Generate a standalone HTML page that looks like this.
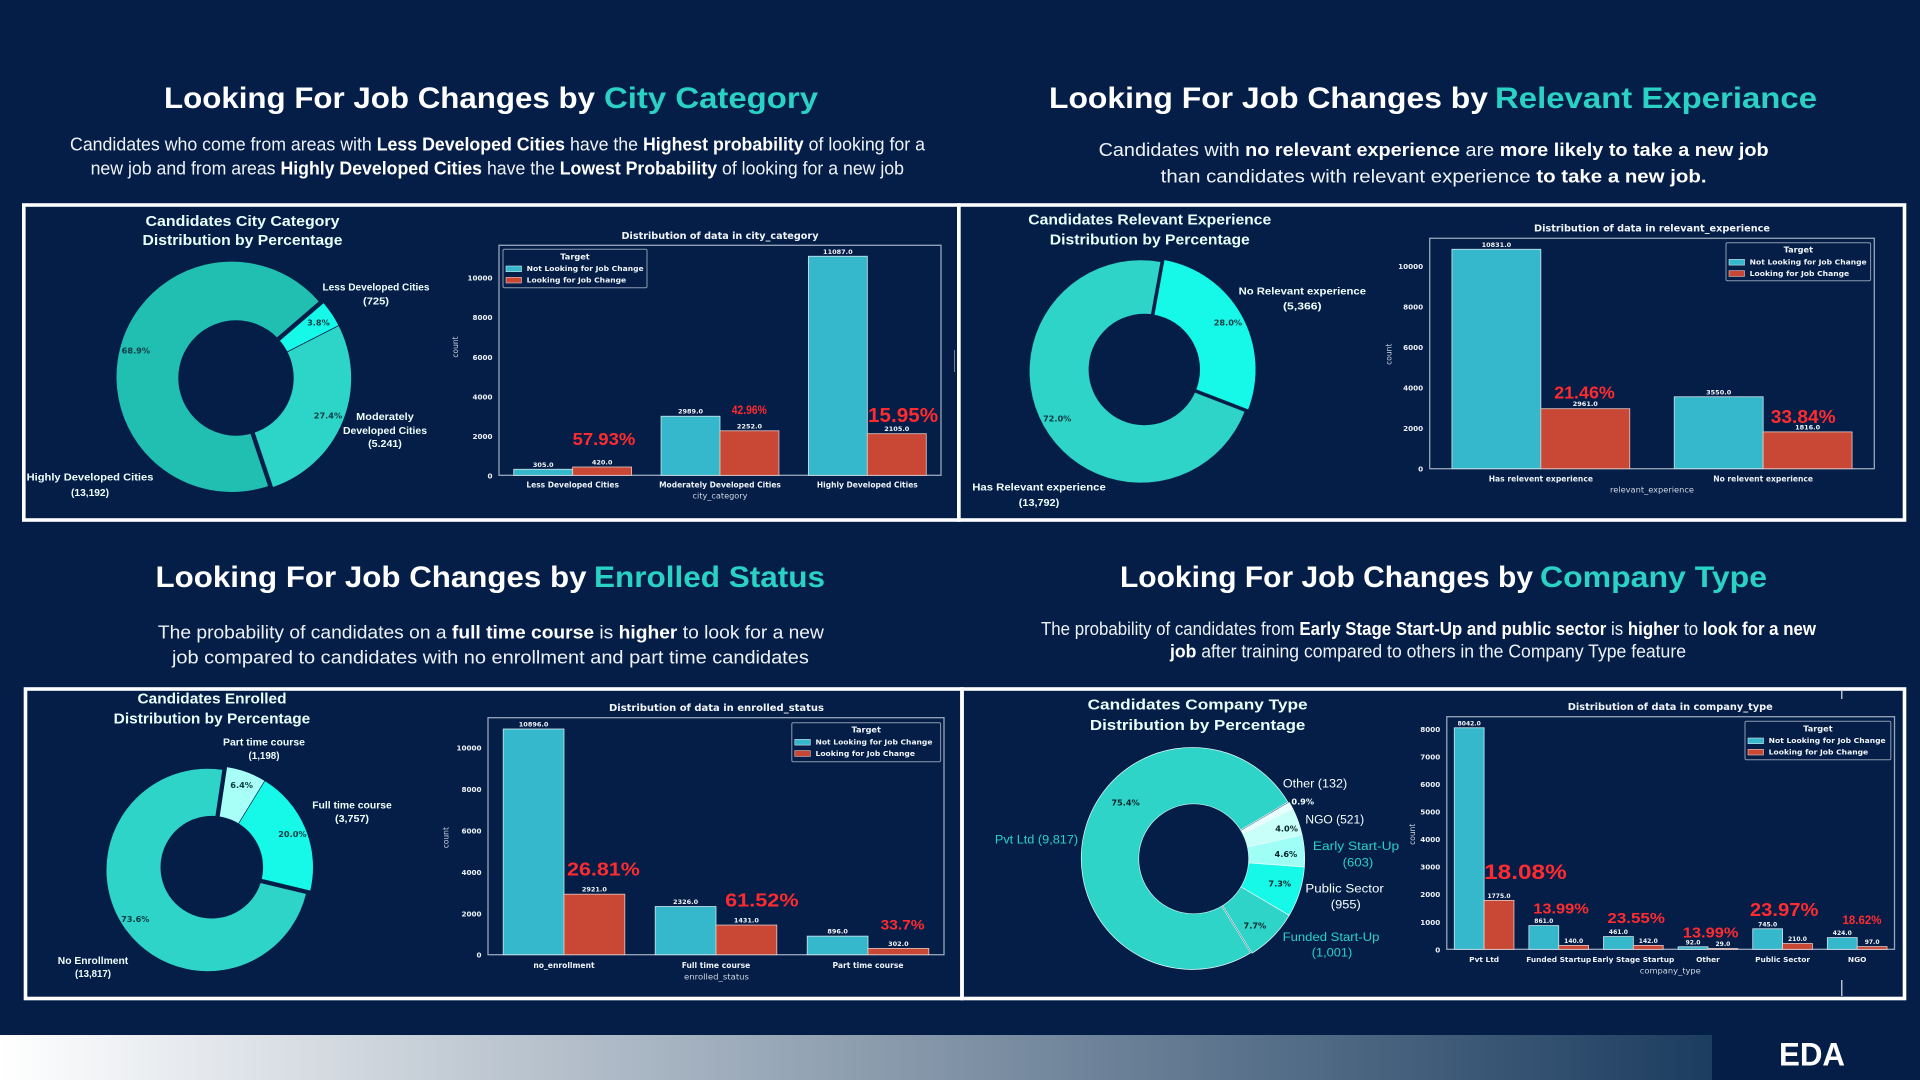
<!DOCTYPE html>
<html lang="en">
<head>
<meta charset="utf-8">
<title>EDA - Looking For Job Changes</title>
<style>
html,body{margin:0;padding:0;background:#041e48;width:1920px;height:1080px;overflow:hidden}
svg{display:block}
text{font-family:"Liberation Sans",sans-serif}
.h{font-size:30px;font-weight:700;fill:#fff}
.h .t{fill:#2ad2c5}
.p{font-size:18px;fill:#eef2f6}
.p .b{font-weight:700;fill:#fff}
.dt{font-size:14.5px;font-weight:700;fill:#e9fffb;text-anchor:middle}
.sl{font-size:10.5px;font-weight:700;fill:#f0fffd;text-anchor:middle}
.st{font-size:11.5px;font-weight:400;fill:#2ad2c5;text-anchor:middle}
.sw{font-size:11.5px;font-weight:400;fill:#f4fffe;text-anchor:middle}
.dv{font-family:"DejaVu Sans",sans-serif}
</style>
</head>
<body>
<svg xmlns="http://www.w3.org/2000/svg" width="1920" height="1080" viewBox="0 0 1920 1080">
  <defs>
    <linearGradient id="footGrad" x1="0" x2="1" y1="0" y2="0">
      <stop offset="0" stop-color="#ffffff"/>
      <stop offset="1" stop-color="#1c3d60"/>
    </linearGradient>
  </defs>
  <rect x="0" y="0" width="1920" height="1080" fill="#041e48"/>

  <text class="h" y="108"><tspan x="164" textLength="431" lengthAdjust="spacingAndGlyphs">Looking For Job Changes by</tspan><tspan class="t" x="604" textLength="214" lengthAdjust="spacingAndGlyphs">City Category</tspan></text>
  <text class="h" y="108"><tspan x="1049" textLength="439" lengthAdjust="spacingAndGlyphs">Looking For Job Changes by</tspan><tspan class="t" x="1495" textLength="322" lengthAdjust="spacingAndGlyphs">Relevant Experiance</tspan></text>
  <text class="h" y="587"><tspan x="155.5" textLength="431" lengthAdjust="spacingAndGlyphs">Looking For Job Changes by</tspan><tspan class="t" x="594" textLength="231" lengthAdjust="spacingAndGlyphs">Enrolled Status</tspan></text>
  <text class="h" y="587"><tspan x="1120" textLength="413" lengthAdjust="spacingAndGlyphs">Looking For Job Changes by</tspan><tspan class="t" x="1540" textLength="227" lengthAdjust="spacingAndGlyphs">Company Type</tspan></text>

  <text class="p" x="70" y="150.7" textLength="855" lengthAdjust="spacingAndGlyphs">Candidates who come from areas with <tspan class="b">Less Developed Cities</tspan> have the <tspan class="b">Highest probability</tspan> of looking for a</text>
  <text class="p" x="90.6" y="174.3" textLength="813.4" lengthAdjust="spacingAndGlyphs">new job and from areas <tspan class="b">Highly Developed Cities</tspan> have the <tspan class="b">Lowest Probability</tspan> of looking for a new job</text>
  <text class="p" x="1098.6" y="156" textLength="670" lengthAdjust="spacingAndGlyphs">Candidates with <tspan class="b">no relevant experience</tspan> are <tspan class="b">more likely to take a new job</tspan></text>
  <text class="p" x="1160.7" y="182.7" textLength="545.8" lengthAdjust="spacingAndGlyphs">than candidates with relevant experience <tspan class="b">to take a new job.</tspan></text>
  <text class="p" x="157.9" y="638.3" textLength="666" lengthAdjust="spacingAndGlyphs">The probability of candidates on a <tspan class="b">full time course</tspan> is <tspan class="b">higher</tspan> to look for a new</text>
  <text class="p" x="172" y="663.3" textLength="636.8" lengthAdjust="spacingAndGlyphs">job compared to candidates with no enrollment and part time candidates</text>
  <text class="p" x="1041" y="635" textLength="775" lengthAdjust="spacingAndGlyphs">The probability of candidates from <tspan class="b">Early Stage Start-Up and public sector</tspan> is <tspan class="b">higher</tspan> to <tspan class="b">look for a new</tspan></text>
  <text class="p" x="1170" y="657.3" textLength="516" lengthAdjust="spacingAndGlyphs"><tspan class="b">job</tspan> after training compared to others in the Company Type feature</text>

  <g fill="none" stroke="#fff" stroke-width="3.6">
    <rect x="23.8" y="205" width="935" height="315"/>
    <rect x="958.8" y="205" width="945.7" height="315"/>
    <rect x="25.5" y="689" width="936.5" height="309.5"/>
    <rect x="962" y="689" width="942.5" height="309.5"/>
  </g>
  <rect x="1841.2" y="691" width="1.2" height="8" fill="#dfe6ee"/>
  <rect x="1841.2" y="980" width="1.2" height="16" fill="#dfe6ee"/>
  <rect x="954" y="350" width="1" height="22" fill="#6f7f98"/>

  <g id="city-donut">
    <text class="dt" x="242.5" y="226" textLength="194" lengthAdjust="spacingAndGlyphs">Candidates City Category</text>
    <text class="dt" x="242.5" y="245" textLength="200" lengthAdjust="spacingAndGlyphs">Distribution by Percentage</text>
    <text class="sl" x="376" y="290.7" textLength="107" lengthAdjust="spacingAndGlyphs">Less Developed Cities</text>
    <text class="sl" x="376" y="304.7" textLength="26" lengthAdjust="spacingAndGlyphs">(725)</text>
    <text class="sl" x="385" y="420" textLength="57.6" lengthAdjust="spacingAndGlyphs">Moderately</text>
    <text class="sl" x="385" y="434" textLength="84" lengthAdjust="spacingAndGlyphs">Developed Cities</text>
    <text class="sl" x="385" y="447" textLength="33.7" lengthAdjust="spacingAndGlyphs">(5.241)</text>
    <text class="sl" x="90" y="480.7" textLength="126.8" lengthAdjust="spacingAndGlyphs">Highly Developed Cities</text>
    <text class="sl" x="90" y="496" textLength="38" lengthAdjust="spacingAndGlyphs">(13,192)</text>
  </g>
  <g id="city-bars"></g>

  <g id="exp-donut">
    <text class="dt" x="1149.8" y="224.3" textLength="243" lengthAdjust="spacingAndGlyphs">Candidates Relevant Experience</text>
    <text class="dt" x="1149.8" y="244.3" textLength="200" lengthAdjust="spacingAndGlyphs">Distribution by Percentage</text>
    <text class="sl" x="1302.3" y="294.7" textLength="127.4" lengthAdjust="spacingAndGlyphs">No Relevant experience</text>
    <text class="sl" x="1302.3" y="309.7" textLength="38.6" lengthAdjust="spacingAndGlyphs">(5,366)</text>
    <text class="sl" x="1039" y="490.7" textLength="133.5" lengthAdjust="spacingAndGlyphs">Has Relevant experience</text>
    <text class="sl" x="1039" y="506" textLength="40.4" lengthAdjust="spacingAndGlyphs">(13,792)</text>
  </g>
  <g id="exp-bars"></g>

  <g id="enr-donut">
    <text class="dt" x="212" y="703.3" textLength="149" lengthAdjust="spacingAndGlyphs">Candidates Enrolled</text>
    <text class="dt" x="212" y="723.3" textLength="196.6" lengthAdjust="spacingAndGlyphs">Distribution by Percentage</text>
    <text class="sl" x="264" y="745.7" textLength="82" lengthAdjust="spacingAndGlyphs">Part time course</text>
    <text class="sl" x="264" y="759" textLength="31" lengthAdjust="spacingAndGlyphs">(1,198)</text>
    <text class="sl" x="352" y="808.7" textLength="79.6" lengthAdjust="spacingAndGlyphs">Full time course</text>
    <text class="sl" x="352" y="822" textLength="34" lengthAdjust="spacingAndGlyphs">(3,757)</text>
    <text class="sl" x="93" y="964" textLength="70.4" lengthAdjust="spacingAndGlyphs">No Enrollment</text>
    <text class="sl" x="93" y="977" textLength="36" lengthAdjust="spacingAndGlyphs">(13,817)</text>
  </g>
  <g id="enr-bars"></g>

  <g id="com-donut">
    <text class="dt" x="1197.6" y="709.3" textLength="220" lengthAdjust="spacingAndGlyphs">Candidates Company Type</text>
    <text class="dt" x="1197.6" y="730" textLength="215.5" lengthAdjust="spacingAndGlyphs">Distribution by Percentage</text>
    <text class="sw" x="1315" y="787.7" textLength="64.3" lengthAdjust="spacingAndGlyphs">Other (132)</text>
    <text class="sw" x="1334.8" y="823.7" textLength="58.8" lengthAdjust="spacingAndGlyphs">NGO (521)</text>
    <text class="st" x="1356" y="850" textLength="86.3" lengthAdjust="spacingAndGlyphs">Early  Start-Up</text>
    <text class="st" x="1358" y="866.7" textLength="30.6" lengthAdjust="spacingAndGlyphs">(603)</text>
    <text class="sw" x="1344.6" y="892.7" textLength="78.4" lengthAdjust="spacingAndGlyphs">Public Sector</text>
    <text class="sw" x="1345.8" y="908.7" textLength="30" lengthAdjust="spacingAndGlyphs">(955)</text>
    <text class="st" x="1331" y="941" textLength="96.8" lengthAdjust="spacingAndGlyphs">Funded Start-Up</text>
    <text class="st" x="1332" y="956.7" textLength="40.4" lengthAdjust="spacingAndGlyphs">(1,001)</text>
    <text class="st" x="1036.5" y="843.7" textLength="83.3" lengthAdjust="spacingAndGlyphs">Pvt Ltd (9,817)</text>
  </g>
  <g id="com-bars"></g>

  <rect x="0" y="1035" width="1712" height="45" fill="url(#footGrad)"/>
  <text x="1779" y="1065.7" font-size="32" font-weight="700" fill="#fff" textLength="66" lengthAdjust="spacingAndGlyphs">EDA</text>
</svg>
<script>
// ---- city category data ----
const cityCategories = ['Less Developed Cities', 'Moderately Developed Cities', 'Highly Developed Cities'];
const cityNotLooking = [305, 2989, 11087];
const cityLooking = [420, 2252, 2105];
const cityTicks = [0, 2000, 4000, 6000, 8000, 10000];
const cityPieCounts = [13192, 5241, 725];
const cityPieText = ['68.9%', '27.4%', '3.8%'];

// ---- relevant experience data ----
const expCategories = ['Has relevent experience', 'No relevent experience'];
const expNotLooking = [10831, 3550];
const expLooking = [2961, 1816];
const expTicks = [0, 2000, 4000, 6000, 8000, 10000];
const expPieCounts = [13792, 5366];
const expPieText = ['72.0%', '28.0%'];

// ---- enrolled status data ----
const enrCategories = ['no_enrollment', 'Full time course', 'Part time course'];
const enrNotLooking = [10896, 2326, 896];
const enrLooking = [2921, 1431, 302];
const enrTicks = [0, 2000, 4000, 6000, 8000, 10000];
const enrPieCounts = [13817, 3757, 1198];
const enrPieText = ['73.6%', '20.0%', '6.4%'];

// ---- company type data ----
const comCategories = ['Pvt Ltd', 'Funded Startup', 'Early Stage Startup', 'Other', 'Public Sector', 'NGO'];
const comNotLooking = [8042, 861, 461, 92, 745, 424];
const comLooking = [1775, 140, 142, 29, 210, 97];
const comTicks = [0, 1000, 2000, 3000, 4000, 5000, 6000, 7000, 8000];
const comPieCounts = [9817, 1001, 955, 603, 521, 132];
const comPieText = ['75.4%', '7.7%', '7.3%', '4.6%', '4.0%', '0.9%'];

const NS = 'http://www.w3.org/2000/svg';
const DV = '"DejaVu Sans",sans-serif';
const BG = '#041e48';
function mk(tag, parent, attrs, content) {
  const el = document.createElementNS(NS, tag);
  for (const k in attrs) el.setAttribute(k, attrs[k]);
  if (content !== undefined) el.textContent = content;
  parent.appendChild(el);
  return el;
}

function drawBarChart(gid, categories, notLooking, looking, ticks, L) {
  const g = document.getElementById(gid);
  const box = L.box;
  const band = (box.r - box.l) / categories.length;
  const yMax = 1.05 * Math.max(...notLooking, ...looking);
  const xAt = c => box.l + band * (c + 0.5);
  const yAt = v => box.b - (v / yMax) * (box.b - box.t);

  const frame = mk('rect', g, {x: box.l, y: box.t, width: box.r - box.l, height: box.b - box.t, fill: 'none', stroke: '#9aa6ba', 'stroke-width': 1.3});
  
  

  const title = mk('text', g, {x: L.titleX, y: L.titleY, 'text-anchor': 'middle', 'font-size': 9.5, 'font-weight': 700, fill: '#f2f5f8', textLength: L.titleW, lengthAdjust: 'spacingAndGlyphs', style: 'font-family:' + DV}, L.title);
  
  

  ticks.forEach(t => {
    const lab = mk('text', g, {x: box.l - 6.5, y: yAt(t) + 3, 'text-anchor': 'end', 'font-size': 7.2, 'font-weight': 700, fill: '#eef2f6', style: 'font-family:' + DV}, String(t));
    
    
  });

  const cnt = mk('text', g, {x: 0, y: 0, transform: 'translate(' + L.countX + ',' + L.countY + ') rotate(-90)', 'text-anchor': 'middle', 'font-size': 7.5, fill: '#cfd6e0', style: 'font-family:' + DV}, 'count');
  
  

  categories.forEach((name, i) => {
    const w = band * 0.4;
    const cx = xAt(i);
    const b1 = mk('rect', g, {x: cx - w, y: yAt(notLooking[i]), width: w, height: box.b - yAt(notLooking[i]), fill: '#35b8cb', stroke: '#cfe6ec', 'stroke-width': 0.8});
    
    
    const b2 = mk('rect', g, {x: cx, y: yAt(looking[i]), width: w, height: box.b - yAt(looking[i]), fill: '#c94735', stroke: '#e8c8c2', 'stroke-width': 0.8});
    
    
    const v1 = mk('text', g, {x: cx - w / 2, y: yAt(notLooking[i]) - 2.5, 'text-anchor': 'middle', 'font-size': L.valSize, 'font-weight': 700, fill: '#f2f5f8', style: 'font-family:' + DV}, notLooking[i].toFixed(1));
    
    
    const v2 = mk('text', g, {x: cx + w / 2, y: yAt(looking[i]) - 2.5, 'text-anchor': 'middle', 'font-size': L.valSize, 'font-weight': 700, fill: '#f2f5f8', style: 'font-family:' + DV}, looking[i].toFixed(1));
    
    
    const cat = mk('text', g, {x: cx, y: L.catY, 'text-anchor': 'middle', 'font-size': L.catSize, 'font-weight': 700, fill: '#eef2f6', style: 'font-family:' + DV}, name);
    
    
  });

  const xt = mk('text', g, {x: L.titleX, y: L.xTitleY, 'text-anchor': 'middle', 'font-size': 8, fill: '#cfd6e0', textLength: L.xTitleW, lengthAdjust: 'spacingAndGlyphs', style: 'font-family:' + DV}, L.xTitle);
  
  

  const Lg = L.legend;
  const lb = mk('rect', g, {x: Lg.x, y: Lg.y, width: Lg.w, height: Lg.h, fill: BG, stroke: '#8d9ab0', 'stroke-width': 1, rx: 1.5});
  
  
  const lt = mk('text', g, {x: Lg.x + Lg.w / 2, y: Lg.y + 10, 'text-anchor': 'middle', 'font-size': 8.2, 'font-weight': 700, fill: '#f2f5f8', style: 'font-family:' + DV}, 'Target');
  
  
  const s1 = mk('rect', g, {x: Lg.x + 3, y: Lg.y + 16.7, width: 15.5, height: 5.7, fill: '#35b8cb', stroke: '#cfe6ec', 'stroke-width': 0.6});
  
  
  const t1 = mk('text', g, {x: Lg.x + 23.7, y: Lg.y + 21.7, 'font-size': 6.8, 'font-weight': 700, fill: '#f2f5f8', textLength: 117, lengthAdjust: 'spacingAndGlyphs', style: 'font-family:' + DV}, 'Not Looking for Job Change');
  
  
  const s2 = mk('rect', g, {x: Lg.x + 3, y: Lg.y + 28, width: 15.5, height: 5.7, fill: '#c94735', stroke: '#e8c8c2', 'stroke-width': 0.6});
  
  
  const t2 = mk('text', g, {x: Lg.x + 23.7, y: Lg.y + 33.4, 'font-size': 6.8, 'font-weight': 700, fill: '#f2f5f8', textLength: 99.5, lengthAdjust: 'spacingAndGlyphs', style: 'font-family:' + DV}, 'Looking for Job Change');
  
  

  return {g, xAt, yAt};
}

function annot(chart, c, v, str, size, width) {
  const a = mk('text', chart.g, {x: chart.xAt(c), y: chart.yAt(v), 'font-size': size, 'font-weight': 700, fill: '#ff2b2f', textLength: width, lengthAdjust: 'spacingAndGlyphs'}, str);
  
  
}

function drawDonut(gid, counts, pctText, L) {
  const g = document.getElementById(gid);
  const total = counts.reduce((s, n) => s + n, 0);
  let a0 = L.start;
  const layer = document.createElementNS(NS, 'g');
  g.insertBefore(layer, g.firstChild);
  
  
  counts.forEach((n, i) => {
    const sweep = n / total * 360;
    const a1 = a0 + sweep;
    const mid = (a0 + a1) / 2 * Math.PI / 180;
    const e = L.explode[i];
    const cx = L.cx + e * Math.cos(mid);
    const cy = L.cy - e * Math.sin(mid);
    const P = (r, a) => (cx + r * Math.cos(a * Math.PI / 180)).toFixed(2) + ' ' + (cy - r * Math.sin(a * Math.PI / 180)).toFixed(2);
    const big = sweep > 180 ? 1 : 0;
    const d = 'M' + cx.toFixed(2) + ' ' + cy.toFixed(2) + 'L' + P(L.r, a0) + 'A' + L.r + ' ' + L.r + ' 0 ' + big + ' 0 ' + P(L.r, a1) + 'Z';
    const w = mk('path', layer, {d: d, fill: L.colors[i], stroke: L.edge, 'stroke-width': L.edgeW});
    
    
    const pr = (L.pctR && L.pctR[i]) || L.r * 0.86;
    const nudge = (L.pctNudge && L.pctNudge[i]) || [0, 0];
    const t = mk('text', g, {x: cx + pr * Math.cos(mid) + nudge[0], y: cy - pr * Math.sin(mid) + 3 + nudge[1], 'text-anchor': 'middle', 'font-size': 8.2, 'font-weight': 700, fill: (L.pctFill && L.pctFill[i]) || '#0d3a44', style: 'font-family:' + DV}, pctText[i]);
    
    
    a0 = a1;
  });
  const hole = mk('circle', layer, {cx: L.cx, cy: L.cy, r: L.r0, fill: BG, stroke: L.holeEdge || 'none', 'stroke-width': 0.7});
  
  
}

drawDonut('city-donut', cityPieCounts, cityPieText, {cx: 236, cy: 378, r: 115.5, r0: 57.7, start: 40.7, explode: [4.5, 0, 0], colors: ['#20bfb1', '#2dd5c8', '#16f9e8'], edge: BG, edgeW: 0.7});
drawDonut('exp-donut', expPieCounts, expPieText, {cx: 1144.3, cy: 369.5, r: 111.5, r0: 55.7, start: 79.7, explode: [4, 0], colors: ['#2fd4c8', '#16f9e8'], edge: BG, edgeW: 0.5});
drawDonut('enr-donut', enrPieCounts, enrPieText, {cx: 211.8, cy: 867.2, r: 101.5, r0: 51.3, start: 81.5, explode: [5, 0, 0], colors: ['#2fd4c8', '#16f9e8', '#a8fff8'], edge: BG, edgeW: 0.6});
drawDonut('com-donut', comPieCounts, comPieText, {cx: 1193.7, cy: 858.8, r: 111, r0: 55, start: 30.5, explode: [1.5, 0, 0, 0, 0, 0], colors: ['#2fd4c8', '#2fd4c8', '#16f9e8', '#9ffff6', '#c8fff9', '#e8ffff'], edge: '#e8fbfa', edgeW: 0.7, holeEdge: '#c8f5f0', pctR: [0, 0, 0, 0, 0, 122], pctNudge: [[26, -33], [-7, 0], [-5, -4], [-3, 2], [3, 2], [2, 1]], pctFill: ['#04242a', '#04242a', '#04242a', '#04242a', '#04242a', '#f4fffe']});

const cityChart = drawBarChart('city-bars', cityCategories, cityNotLooking, cityLooking, cityTicks, {
  box: {l: 499, t: 245.3, r: 941, b: 475.3}, title: 'Distribution of data in city_category', titleX: 720, titleY: 239, titleW: 197,
  countX: 458, countY: 347, catY: 487.7, catSize: 7.5, valSize: 6.5, xTitle: 'city_category', xTitleY: 498.3, xTitleW: 55,
  legend: {x: 503, y: 249.3, w: 144, h: 38.4}
});
annot(cityChart, 0.0, 1533, '57.93%', 17.5, 62.6);
annot(cityChart, 1.08, 3102, '42.96%', 11.5, 35);
annot(cityChart, 2.005, 2697, '15.95%', 20.5, 70);

const expChart = drawBarChart('exp-bars', expCategories, expNotLooking, expLooking, expTicks, {
  box: {l: 1429.7, t: 238.3, r: 1874.3, b: 468.7}, title: 'Distribution of data in relevant_experience', titleX: 1652, titleY: 231.7, titleW: 236,
  countX: 1391.5, countY: 354.3, catY: 481.7, catSize: 7.6, valSize: 6.5, xTitle: 'relevant_experience', xTitleY: 492.7, xTitleW: 84,
  legend: {x: 1726, y: 242.7, w: 144.6, h: 38}
});
annot(expChart, 0.06, 3455, '21.46%', 17.5, 60.6);
annot(expChart, 1.034, 2256, '33.84%', 18.5, 65);

const enrChart = drawBarChart('enr-bars', enrCategories, enrNotLooking, enrLooking, enrTicks, {
  box: {l: 488, t: 717.7, r: 944, b: 954.7}, title: 'Distribution of data in enrolled_status', titleX: 716.5, titleY: 711, titleW: 215,
  countX: 448.6, countY: 837.7, catY: 968, catSize: 7.6, valSize: 6.5, xTitle: 'enrolled_status', xTitleY: 979.7, xTitleW: 65,
  legend: {x: 791.8, y: 722.7, w: 148.8, h: 39}
});
annot(enrChart, 0.02, 3815, '26.81%', 18, 72.8);
annot(enrChart, 1.06, 2318, '61.52%', 18, 73.5);
annot(enrChart, 2.083, 1226, '33.7%', 14, 44);

const comChart = drawBarChart('com-bars', comCategories, comNotLooking, comLooking, comTicks, {
  box: {l: 1446.8, t: 716.7, r: 1894.5, b: 949.3}, title: 'Distribution of data in company_type', titleX: 1670.3, titleY: 710, titleW: 205,
  countX: 1414.8, countY: 834.3, catY: 962, catSize: 7.4, valSize: 6, xTitle: 'company_type', xTitleY: 973.3, xTitleW: 61,
  legend: {x: 1745, y: 721.3, w: 145.8, h: 38.4}
});
annot(comChart, 0, 2552, '18.08%', 21, 82.7);
annot(comChart, 0.658, 1292, '13.99%', 15, 55.7);
annot(comChart, 1.653, 955, '23.55%', 15, 57.5);
annot(comChart, 2.662, 436, '13.99%', 15, 55.7);
annot(comChart, 3.562, 1209, '23.97%', 18, 68.6);
annot(comChart, 4.803, 918, '18.62%', 12, 39);
</script>
</body>
</html>
